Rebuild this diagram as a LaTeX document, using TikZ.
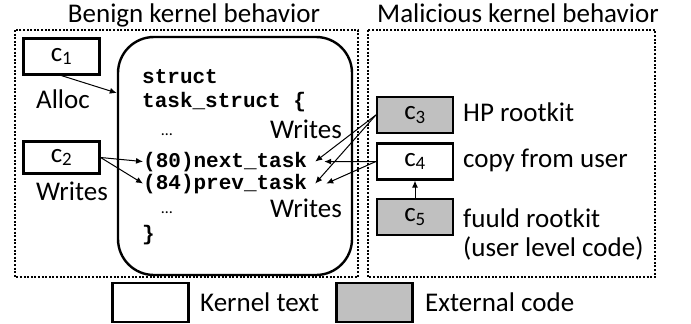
\documentclass[tikz,border=0pt]{standalone}
\usepackage{fontspec}
\usetikzlibrary{arrows.meta}
\setmainfont{Carlito}
\setmonofont{Liberation Mono}

\begin{document}
\begin{tikzpicture}[x=1pt,y=-1pt,
  cbox/.style={draw,line width=2.2pt,minimum width=76,minimum height=36,inner sep=0pt,font=\fontsize{27}{30}\selectfont},
  lbl/.style={font=\fontsize{27}{30}\selectfont,inner sep=0pt,anchor=base},
  code/.style={font=\fontsize{21}{24}\selectfont\ttfamily\bfseries,inner sep=0pt,anchor=base west},
  area/.style={line width=2.2pt,dash pattern=on 2pt off 1.6pt},
  wr/.style={-{Latex[length=7pt,width=6pt]},line width=1pt}]
\definecolor{extgray}{HTML}{C0C0C0}
\useasboundingbox (0,0) rectangle (691,324);
% the two areas
\node[lbl] (bt) at (194,23) {Benign kernel behavior};
\node[lbl] (mt) at (518,23) {Malicious kernel behavior};
\draw[area] (15,30) rectangle (358,277);
\draw[area] (368,30) rectangle (655,277);
% benign side
\node[cbox] (c1) at (61.5,56.5) {c\textsubscript{1}};
\node[cbox,minimum height=32] (c2) at (61.5,157.5) {c\textsubscript{2}};
\node[lbl] (al) at (63,108) {Alloc};
\node[lbl] (w0) at (72,200) {Writes};
\node[draw,line width=2.4pt,rounded corners=36pt,minimum width=234,minimum height=238] (ts) at (235,156) {};
\node[code] (s1) at (142,83) {struct};
\node[code] (s2) at (142,107) {task\_struct \{};
\node[lbl,font=\fontsize{16}{18}\selectfont] (d1) at (167,135) {\ldots};
\node[code] (nt) at (143,167) {(80)next\_task};
\node[code] (pt) at (143,189) {(84)prev\_task};
\node[lbl,font=\fontsize{16}{18}\selectfont] (d2) at (167,213) {\ldots};
\node[code] (s3) at (142,240) {\}};
\node[lbl] (w1) at (306,138) {Writes};
\node[lbl] (w2) at (306,217) {Writes};
% malicious side
\node[cbox,fill=extgray] (c3) at (415,115) {c\textsubscript{3}};
\node[cbox] (c4) at (415,161.5) {c\textsubscript{4}};
\node[cbox,fill=extgray] (c5) at (415,217) {c\textsubscript{5}};
\node[lbl,anchor=base west] (l3) at (463,121) {HP rootkit};
\node[lbl,anchor=base west] (l4) at (463,167) {copy from user};
\node[lbl,anchor=base west] (l5) at (463,227) {fuuld rootkit};
\node[lbl,anchor=base west] (l6) at (463,256) {(user level code)};
% connectors
\draw[wr] (c1.south) -- ([yshift=63pt]ts.west);
\draw[wr] (c2.east) -- (nt.west);
\draw[wr] (c2.east) -- (pt.west);
\draw[wr] (c3.west) -- ([xshift=8pt]nt.east);
\draw[wr] (c3.west) -- ([xshift=8pt]pt.east);
\draw[wr] (c4.west) -- ([xshift=17pt]nt.east);
\draw[wr] (c4.west) -- ([xshift=19pt]pt.east);
\draw[wr] (c5.north) -- (c4.south);
% legend
\node[cbox,minimum height=39] (kt) at (150.5,302.5) {};
\node[lbl,anchor=base west] (ktl) at (200,311) {Kernel text};
\node[cbox,fill=extgray,minimum height=39] (ec) at (374.5,302.5) {};
\node[lbl,anchor=base west] (ecl) at (425,311) {External code};
\end{tikzpicture}
\end{document}
